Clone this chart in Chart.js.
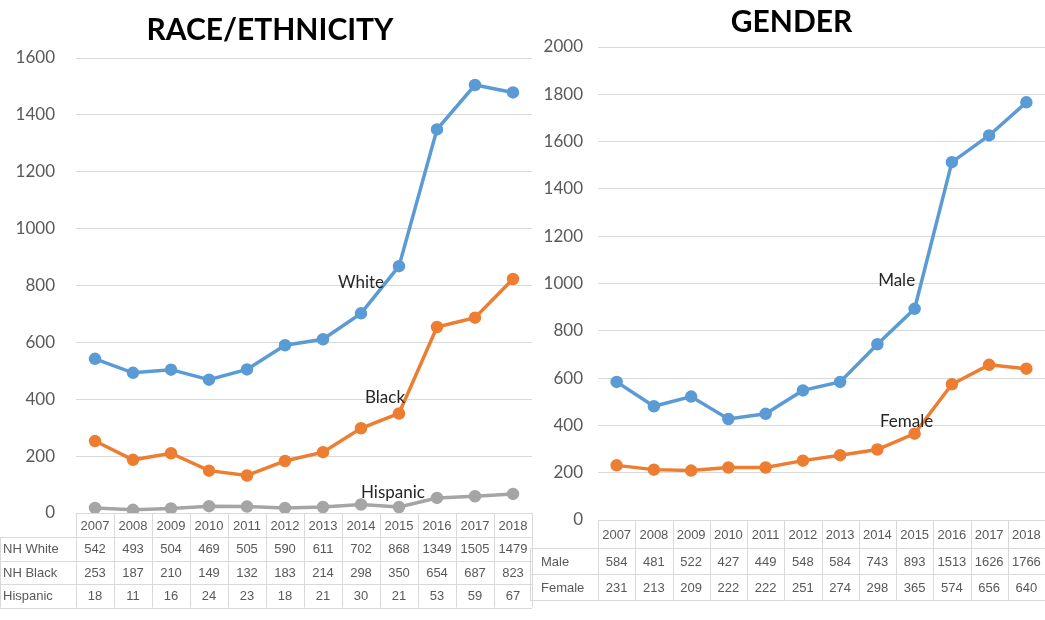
<!DOCTYPE html>
<html>
<head>
<meta charset="utf-8">
<script src="https://cdn.jsdelivr.net/npm/chart.js@4.4.1/dist/chart.umd.min.js"></script>
<style>
body{margin:0;background:#fff;}
#wrap{position:relative;width:1045px;height:620px;overflow:hidden;}
canvas{position:absolute;top:0;}
#c1{left:0;}
#c2{left:530px;}
</style>
</head>
<body>
<div id="wrap">
<canvas id="c1" width="540" height="620"></canvas>
<canvas id="c2" width="523" height="620"></canvas>
</div>
<script>
// Годы
var years = ['2007','2008','2009','2010','2011','2012','2013','2014','2015','2016','2017','2018'];

// Раса / этничность
var nhWhite  = [542, 493, 504, 469, 505, 590, 611, 702, 868, 1349, 1505, 1479];
var nhBlack  = [253, 187, 210, 149, 132, 183, 214, 298, 350, 654, 687, 823];
var hispanic = [18, 11, 16, 24, 23, 18, 21, 30, 21, 53, 59, 67];

// Пол
var male   = [584, 481, 522, 427, 449, 548, 584, 743, 893, 1513, 1626, 1766];
var female = [231, 213, 209, 222, 222, 251, 274, 298, 365, 574, 656, 640];

var BLUE = '#5b9bd5', ORANGE = '#ed7d31', GRAY = '#a5a5a5';
var tableFont = '13px "Liberation Sans Narrow", "Arial Narrow", "Liberation Sans", sans-serif';

// Таблица данных под графиком
var tablePlugin = {
	id: 'dataTable',
	afterDraw: function(chart, args, opts){
		var ctx = chart.ctx;
		var area = chart.chartArea;
		var xs = chart.scales.x;
		var n = chart.data.labels.length;
		var w = (area.right - area.left) / n;
		var top = area.bottom;
		var h0 = opts.headHeight, h = opts.rowHeight;
		var rows = chart.data.datasets;
		var bottom = top + h0 + h * rows.length;

		ctx.save();
		ctx.strokeStyle = '#d9d9d9';
		ctx.lineWidth = 1;
		ctx.beginPath();
		// горизонтальные линии
		ctx.moveTo(area.left, top + 0.5); ctx.lineTo(area.right, top + 0.5);
		for (var r = 0; r <= rows.length; r++){
			var yy = Math.round(top + h0 + h * r) + 0.5;
			ctx.moveTo(opts.labelLeft, yy); ctx.lineTo(area.right, yy);
		}
		// вертикальные линии
		for (var k = 0; k <= n; k++){
			var xx = Math.round(area.left + w * k) + 0.5;
			ctx.moveTo(xx, top); ctx.lineTo(xx, bottom);
		}
		ctx.moveTo(opts.labelLeft + 0.5, top + h0); ctx.lineTo(opts.labelLeft + 0.5, bottom);
		ctx.stroke();

		ctx.font = tableFont;
		ctx.fillStyle = '#595959';
		ctx.textBaseline = 'middle';
		ctx.textAlign = 'center';
		for (var i = 0; i < n; i++){
			var cx = xs.getPixelForValue(i);
			ctx.fillText(chart.data.labels[i], cx, top + h0 / 2 + 1);
			for (var j = 0; j < rows.length; j++){
				ctx.fillText(String(rows[j].data[i]), cx, top + h0 + h * j + h / 2 + 1);
			}
		}
		ctx.textAlign = 'left';
		for (var j2 = 0; j2 < rows.length; j2++){
			ctx.fillText(rows[j2].label, opts.labelLeft + opts.inset, top + h0 + h * j2 + h / 2 + 1);
		}
		ctx.restore();
	}
};

// Подписи линий внутри графика
var namesPlugin = {
	id: 'seriesNames',
	afterDatasetsDraw: function(chart, args, opts){
		var ctx = chart.ctx;
		ctx.save();
		ctx.font = '17px Lato, "Open Sans", sans-serif';
		ctx.fillStyle = '#262626';
		ctx.textAlign = 'center';
		ctx.textBaseline = 'middle';
		opts.items.forEach(function(it){
			var pt = chart.getDatasetMeta(it.dataset).data[it.index];
			ctx.fillText(it.text, pt.x + it.dx, pt.y + it.dy);
		});
		ctx.restore();
	}
};

function line(label, data, color){
	return {
		label: label,
		data: data,
		borderColor: color,
		backgroundColor: color,
		borderWidth: 3.5,
		pointRadius: 4.5,
		pointHoverRadius: 4.5,
		tension: 0
	};
}

function makeChart(id, opt){
	return new Chart(document.getElementById(id), {
		type: 'line',
		data: { labels: years, datasets: opt.datasets },
		plugins: [tablePlugin, namesPlugin],
		options: {
			responsive: false,
			animation: false,
			layout: { padding: { top: 0, bottom: opt.bottomPad, left: 0, right: 0 } },
			plugins: {
				legend: { display: false },
				tooltip: { enabled: false },
				title: {
					display: true,
					text: opt.title,
					color: '#000',
					font: { family: 'Lato, "Open Sans", sans-serif', size: 30, weight: 'bold', lineHeight: 1.2 },
					padding: opt.titlePad
				},
				dataTable: { headHeight: opt.headHeight, rowHeight: opt.rowHeight, labelLeft: opt.labelLeft, inset: opt.inset },
				seriesNames: { items: opt.names }
			},
			scales: {
				x: { display: false, offset: true },
				y: {
					min: 0, max: opt.max,
					ticks: {
						stepSize: 200, padding: opt.tickPad, color: '#595959',
						font: { family: 'Lato, "Open Sans", sans-serif', size: 17 },
						callback: function(v){ return String(v); }
					},
					grid: { color: '#d9d9d9', drawTicks: false },
					border: { display: false },
					afterFit: function(s){ s.width = opt.axisWidth; }
				}
			}
		}
	});
}

makeChart('c1', {
	title: 'RACE/ETHNICITY',
	titlePad: { top: 12, bottom: 10 },
	max: 1600,
	axisWidth: 76,
	tickPad: 21,
	bottomPad: 107,
	headHeight: 24,
	rowHeight: 23.5,
	labelLeft: 0,
	inset: 3,
	datasets: [line('NH White', nhWhite, BLUE), line('NH Black', nhBlack, ORANGE), line('Hispanic', hispanic, GRAY)],
	names: [
		{ text: 'White', dataset: 0, index: 7, dx: 0, dy: -31 },
		{ text: 'Black', dataset: 1, index: 8, dx: -14, dy: -16 },
		{ text: 'Hispanic', dataset: 2, index: 8, dx: -6, dy: -15 }
	]
});

makeChart('c2', {
	title: 'GENDER',
	titlePad: { top: 4, bottom: 7 },
	max: 2000,
	axisWidth: 68,
	tickPad: 15,
	bottomPad: 100,
	headHeight: 28,
	rowHeight: 26,
	labelLeft: 0,
	inset: 11,
	datasets: [line('Male', male, BLUE), line('Female', female, ORANGE)],
	names: [
		{ text: 'Male', dataset: 0, index: 8, dx: -18, dy: -28 },
		{ text: 'Female', dataset: 1, index: 8, dx: -8, dy: -12 }
	]
});
</script>
</body>
</html>
